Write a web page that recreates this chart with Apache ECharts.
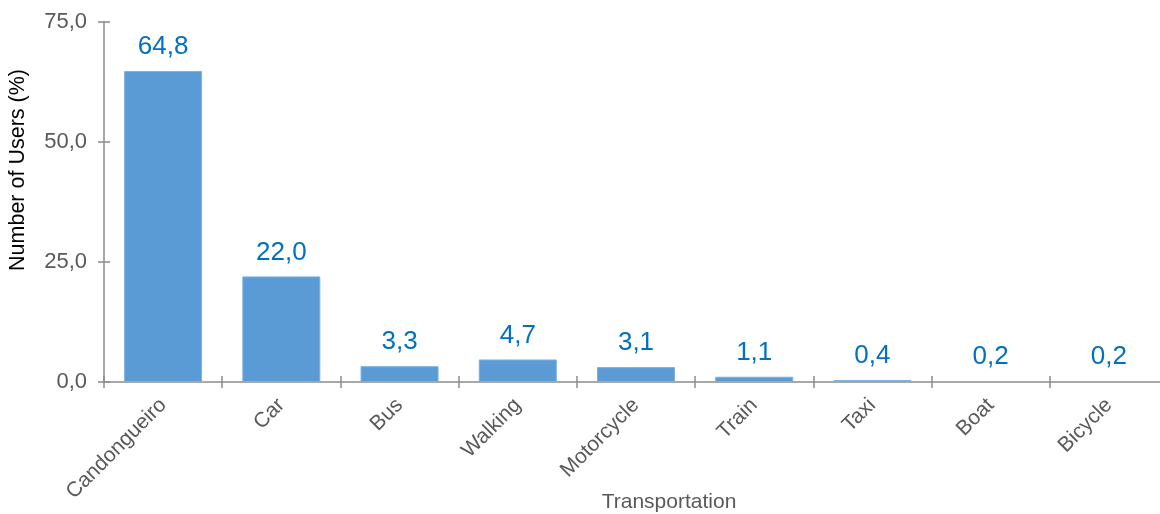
<!DOCTYPE html>
<html>
<head>
<meta charset="utf-8">
<script src="https://cdn.jsdelivr.net/npm/echarts@6/dist/echarts.min.js"></script>
<style>
  html, body { margin: 0; padding: 0; background: #fff; }
  #chart { width: 1160px; height: 514px; }
</style>
</head>
<body>
<div id="chart"></div>
<script>
// Share of users by mode of transportation (%)
const categories = ['Candongueiro', 'Car', 'Bus', 'Walking', 'Motorcycle', 'Train', 'Taxi', 'Boat', 'Bicycle'];
const users = [64.8, 22.0, 3.3, 4.7, 3.1, 1.1, 0.4, 0.2, 0.2];
const yTicks = [0, 25, 50, 75];

const FONT = '"Liberation Sans", Arial, sans-serif';
const AXIS_GREY = '#8c8c8c';
const TEXT_GREY = '#595959';
const fmt = v => v.toFixed(1).replace('.', ',');

const chart = echarts.init(document.getElementById('chart'));
chart.setOption({
  animation: false,
  textStyle: { fontFamily: FONT },
  grid: { left: 104, right: -8, top: 22, bottom: 132, containLabel: false, outerBoundsMode: 'none' },
  xAxis: [
    {
      type: 'category',
      data: categories,
      position: 'bottom',
      name: 'Transportation',
      nameLocation: 'middle',
      nameGap: 110,
      nameMoveOverlap: false,
      nameTextStyle: { fontSize: 21, color: TEXT_GREY, fontFamily: FONT, padding: [0, 0, 0, 66] },
      axisLine: { lineStyle: { color: AXIS_GREY, width: 1.5 } },
      axisTick: { show: true, inside: false, length: 6, lineStyle: { color: AXIS_GREY, width: 1.5 } },
      axisLabel: { rotate: 45, margin: 20, fontSize: 21, color: TEXT_GREY, fontFamily: FONT },
      splitLine: { show: false }
    },
    {
      type: 'category',
      data: categories,
      position: 'bottom',
      offset: 0,
      axisLine: { show: false },
      axisTick: { show: true, inside: true, length: 6, lineStyle: { color: AXIS_GREY, width: 1.5 } },
      axisLabel: { show: false },
      splitLine: { show: false }
    }
  ],
  yAxis: [
    {
      type: 'value',
      min: yTicks[0],
      max: yTicks[yTicks.length - 1],
      interval: yTicks[1] - yTicks[0],
      position: 'left',
      name: 'Number of Users (%)',
      nameLocation: 'middle',
      nameGap: 75,
      nameMoveOverlap: false,
      nameRotate: 90,
      nameTextStyle: { fontSize: 21.5, color: '#000', fontFamily: FONT, padding: [0, 0, 0, 64] },
      axisLine: { show: true, lineStyle: { color: AXIS_GREY, width: 1.5 } },
      axisTick: { show: true, inside: false, length: 6, lineStyle: { color: AXIS_GREY, width: 1.5 } },
      axisLabel: { margin: 17, fontSize: 22, color: TEXT_GREY, fontFamily: FONT, formatter: v => fmt(v) },
      splitLine: { show: false }
    },
    {
      type: 'value',
      min: yTicks[0],
      max: yTicks[yTicks.length - 1],
      interval: yTicks[1] - yTicks[0],
      position: 'left',
      offset: 0,
      axisLine: { show: false },
      axisTick: { show: true, inside: true, length: 6, lineStyle: { color: AXIS_GREY, width: 1.5 } },
      axisLabel: { show: false },
      splitLine: { show: false }
    }
  ],
  series: [
    {
      type: 'bar',
      data: users,
      xAxisIndex: 0,
      yAxisIndex: 0,
      barCategoryGap: '34%',
      itemStyle: { color: '#5b9bd5', borderColor: '#7fb1e0', borderWidth: 1 },
      label: {
        show: true,
        position: 'top',
        distance: 11,
        fontSize: 26,
        color: '#0070c0',
        fontFamily: FONT,
        formatter: p => fmt(p.value)
      }
    }
  ]
});
</script>
</body>
</html>
